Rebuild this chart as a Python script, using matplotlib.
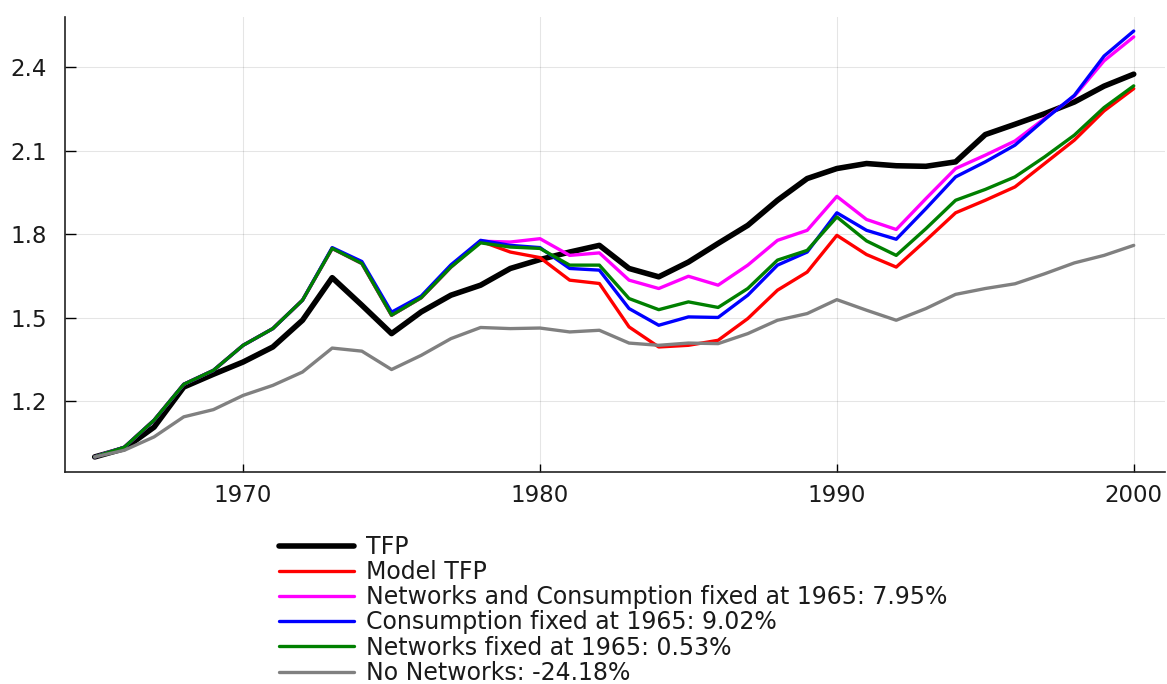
import matplotlib
matplotlib.use("Agg")
import matplotlib.pyplot as plt
import numpy as np

years = np.arange(1965, 2001)

tfp = [1.00, 1.03, 1.107, 1.251, 1.297, 1.341, 1.395, 1.491, 1.644, 1.545,
       1.443, 1.521, 1.581, 1.617, 1.677, 1.709, 1.736, 1.760, 1.677, 1.647,
       1.700, 1.767, 1.832, 1.922, 2.000, 2.036, 2.054, 2.046, 2.044, 2.060,
       2.158, 2.195, 2.233, 2.275, 2.332, 2.375]

model_tfp = [1.00, 1.035, 1.132, 1.261, 1.311, 1.401, 1.461, 1.563, 1.749, 1.695,
             1.509, 1.572, 1.682, 1.775, 1.736, 1.716, 1.635, 1.623, 1.467, 1.395,
             1.401, 1.419, 1.497, 1.599, 1.664, 1.796, 1.727, 1.682, 1.778, 1.877,
             1.922, 1.970, 2.054, 2.138, 2.243, 2.323]

net_cons_fixed = [1.00, 1.035, 1.132, 1.261, 1.311, 1.401, 1.461, 1.563, 1.749, 1.695,
                  1.509, 1.572, 1.682, 1.775, 1.772, 1.784, 1.724, 1.733, 1.635, 1.605,
                  1.649, 1.617, 1.689, 1.778, 1.814, 1.936, 1.853, 1.817, 1.928, 2.036,
                  2.084, 2.135, 2.216, 2.296, 2.423, 2.509]

cons_fixed = [1.00, 1.035, 1.132, 1.261, 1.311, 1.401, 1.461, 1.563, 1.752, 1.702,
              1.520, 1.578, 1.690, 1.778, 1.760, 1.752, 1.677, 1.671, 1.533, 1.473,
              1.503, 1.501, 1.581, 1.689, 1.736, 1.877, 1.814, 1.782, 1.892, 2.006,
              2.060, 2.120, 2.212, 2.299, 2.440, 2.530]

net_fixed = [1.00, 1.035, 1.132, 1.261, 1.311, 1.401, 1.461, 1.563, 1.749, 1.695,
             1.509, 1.572, 1.682, 1.769, 1.754, 1.749, 1.689, 1.689, 1.569, 1.529,
             1.557, 1.537, 1.605, 1.707, 1.742, 1.862, 1.776, 1.724, 1.820, 1.922,
             1.961, 2.006, 2.078, 2.156, 2.255, 2.333]

no_networks = [1.00, 1.024, 1.072, 1.144, 1.170, 1.221, 1.257, 1.305, 1.391, 1.380,
               1.314, 1.365, 1.425, 1.465, 1.461, 1.463, 1.449, 1.455, 1.409, 1.401,
               1.409, 1.407, 1.443, 1.491, 1.515, 1.565, 1.527, 1.491, 1.533, 1.584,
               1.605, 1.622, 1.658, 1.697, 1.724, 1.760]

series = [
    (tfp, "TFP", "black", 4.0),
    (model_tfp, "Model TFP", "#ff0000", 2.4),
    (net_cons_fixed, "Networks and Consumption fixed at 1965: 7.95%", "#ff00ff", 2.4),
    (cons_fixed, "Consumption fixed at 1965: 9.02%", "#0000ff", 2.4),
    (net_fixed, "Networks fixed at 1965: 0.53%", "#008000", 2.4),
    (no_networks, "No Networks: -24.18%", "#808080", 2.4),
]

fig = plt.figure(figsize=(11.67, 6.84), dpi=100)
ax = fig.add_axes([0.0557, 0.310, 0.9425, 0.665])

for vals, label, color, lw in series:
    ax.plot(years, vals, color=color, lw=lw, label=label, solid_capstyle="round")

ax.set_xlim(1964.0, 2001.05)
ax.set_ylim(0.946, 2.58)
ax.set_xticks([1970, 1980, 1990, 2000])
ax.set_yticks([1.2, 1.5, 1.8, 2.1, 2.4])
ax.set_yticklabels(["1.2", "1.5", "1.8", "2.1", "2.4"])
ax.grid(True, color="black", alpha=0.1, lw=0.8)
ax.spines["top"].set_visible(False)
ax.spines["right"].set_visible(False)
for s in ["left", "bottom"]:
    ax.spines[s].set_linewidth(1.2)
    ax.spines[s].set_color("#222222")
ax.tick_params(axis="y", direction="in", length=8, width=1, labelsize=16.5,
               pad=13, labelcolor="#1a1a1a")
ax.tick_params(axis="x", direction="in", length=5.5, width=1, labelsize=16.5,
               pad=9, labelcolor="#1a1a1a")

fig.legend(loc="upper left", bbox_to_anchor=(0.239, 0.218), frameon=False,
           fontsize=17, handlelength=3.2, handletextpad=0.5, labelspacing=0.05,
           borderpad=0, borderaxespad=0, labelcolor="#1a1a1a")

fig.savefig("out.png", dpi=100)
